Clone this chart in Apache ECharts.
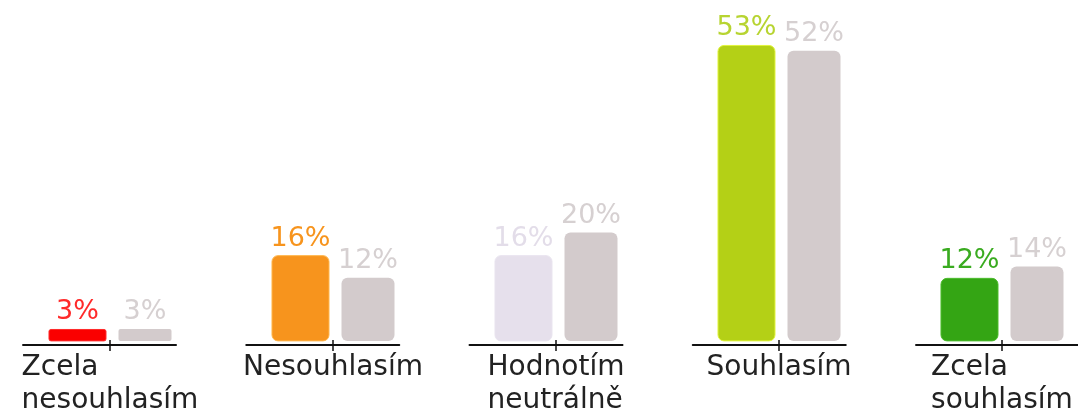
<!DOCTYPE html>
<html>
<head>
<meta charset="utf-8">
<style>
  html, body { margin: 0; padding: 0; background: #ffffff; }
  #chart { width: 1078px; height: 415px; }
</style>
<script src="https://cdn.jsdelivr.net/npm/echarts@6/dist/echarts.min.js"></script>
</head>
<body>
<div id="chart"></div>
<script>
// Answer categories (line breaks as printed under the axis)
const categories = ['Zcela\nnesouhlasím', 'Nesouhlasím', 'Hodnotím\nneutrálně', 'Souhlasím', 'Zcela\nsouhlasím'];

// Share of answers in percent
const primaryValues = [3, 16, 16, 53, 12];
const comparisonValues = [3, 12, 20, 52, 14];

// Per-answer colours of the highlighted series
const primaryColors = ['#fa0000', '#f7941d', '#e6e0ec', '#b4d016', '#34a514'];
const primaryEdges = ['#ff2a2a', '#ffb54a', '#e9e4ef', '#e2f53c', '#4cbc2c'];
const primaryLabelColors = ['#ff2a2a', '#f7941d', '#e3dde9', '#b7d431', '#3aab20'];
const comparisonColor = '#d3cbcc';
const comparisonLabelColor = '#d6d0d1';

const FONT = '"DejaVu Sans", Verdana, sans-serif';

// short bars get tighter corners
function cornerFor(v) { return v < 5 ? 2 : 6; }

const chart = echarts.init(document.getElementById('chart'), null, { renderer: 'canvas' });

const catAxisBase = {
  type: 'category',
  data: categories,
  position: 'bottom',
  boundaryGap: true,
  offset: 4
};

chart.setOption({
  animation: false,
  backgroundColor: '#ffffff',
  grid: { left: -1.5, width: 1115, top: 5.2, bottom: 74.1, containLabel: false, outerBoundsMode: 'none' },
  xAxis: [
    Object.assign({}, catAxisBase, {
      axisLine: {
        show: true,
        lineStyle: {
          color: '#111111',
          width: 2,
          // separate baseline piece under each answer group
          type: [0.01, 24.5, 153, 70.25, 153, 70.25, 153, 70.25, 153, 70.25, 300, 10]
        }
      },
      axisTick: { show: true, alignWithLabel: true, length: 6, lineStyle: { color: '#111111', width: 1.5 } },
      axisLabel: {
        show: true,
        interval: 0,
        margin: 6,
        align: 'center',
        hideOverlap: false,
        formatter: function (v) {
          return v.split('\n').map(function (s) { return '{l|' + s + '}'; }).join('\n');
        },
        rich: {
          l: { align: 'left', fontFamily: FONT, fontSize: 28, lineHeight: 33, color: '#222222' }
        }
      },
      splitLine: { show: false }
    }),
    Object.assign({}, catAxisBase, {
      axisLine: { show: false },
      axisTick: { show: true, inside: true, alignWithLabel: true, length: 5, lineStyle: { color: '#111111', width: 1.5 } },
      axisLabel: { show: false },
      splitLine: { show: false }
    })
  ],
  yAxis: {
    type: 'value',
    min: 0.9,
    max: 60,
    show: false,
    splitLine: { show: false }
  },
  series: [
    {
      type: 'bar',
      xAxisIndex: 0,
      barWidth: 58,
      barGap: '20.7%',
      clip: true,
      data: primaryValues.map(function (v, i) {
        return {
          value: v,
          itemStyle: {
            color: primaryColors[i],
            borderColor: primaryEdges[i],
            borderWidth: 1,
            borderRadius: cornerFor(v)
          },
          label: { color: primaryLabelColors[i] }
        };
      }),
      label: {
        show: true,
        position: 'top',
        distance: 3,
        fontFamily: FONT,
        fontSize: 27,
        formatter: '{c}%'
      }
    },
    {
      type: 'bar',
      xAxisIndex: 0,
      barWidth: 53,
      clip: true,
      data: comparisonValues.map(function (v) {
        return { value: v, itemStyle: { borderRadius: cornerFor(v) } };
      }),
      itemStyle: { color: comparisonColor },
      label: {
        show: true,
        position: 'top',
        distance: 3,
        fontFamily: FONT,
        fontSize: 27,
        color: comparisonLabelColor,
        formatter: '{c}%'
      }
    }
  ]
});
</script>
</body>
</html>
